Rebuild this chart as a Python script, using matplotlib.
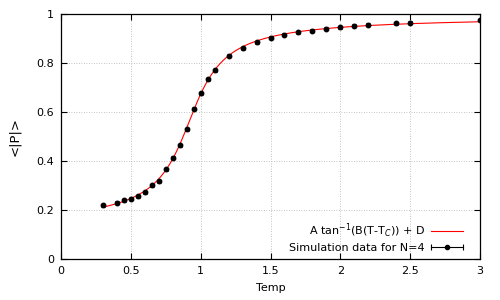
import numpy as np
import matplotlib
matplotlib.use("Agg")
import matplotlib.pyplot as plt
from matplotlib.lines import Line2D
from matplotlib.legend_handler import HandlerBase

temp = [0.3, 0.4, 0.45, 0.5, 0.55, 0.6, 0.65, 0.7, 0.75, 0.8, 0.85, 0.9, 0.95, 1.0,
        1.05, 1.1, 1.2, 1.3, 1.4, 1.5, 1.6, 1.7, 1.8, 1.9, 2.0, 2.1, 2.2, 2.4, 2.5, 3.0]
pabs = [0.219, 0.230, 0.240, 0.245, 0.256, 0.272, 0.301, 0.317, 0.366, 0.413, 0.464,
        0.529, 0.613, 0.676, 0.733, 0.771, 0.830, 0.861, 0.884, 0.903, 0.916, 0.925,
        0.933, 0.940, 0.947, 0.952, 0.956, 0.962, 0.964, 0.976]
perr = [0.006] * len(temp)

# fitted parameters of A*atan(B*(T-Tc)) + D
fit_A, fit_B, fit_Tc, fit_D = 0.2752, 5.25, 0.918, 0.5615


class HandlerXErr(HandlerBase):
    def create_artists(self, legend, orig, xdescent, ydescent, width, height,
                       fontsize, trans):
        y = height / 2 - ydescent
        x0 = -xdescent
        x1 = x0 + width
        line = Line2D([x0, x1], [y, y], color='black', lw=0.8)
        caps = Line2D([x0, x1], [y, y], ls='none', marker='|', ms=4.5,
                      mew=0.8, color='black')
        dot = Line2D([(x0 + x1) / 2], [y], ls='none', marker='o', ms=3,
                     color='black')
        for a in (line, caps, dot):
            a.set_transform(trans)
        return [line, caps, dot]


plt.rcParams['font.family'] = 'DejaVu Sans'
plt.rcParams['font.size'] = 8
fig = plt.figure(figsize=(5, 3), dpi=100)
ax = fig.add_axes([0.122, 0.137, 0.838, 0.816])

tt = np.linspace(min(temp), max(temp), 400)
fit_line, = ax.plot(tt, fit_A * np.arctan(fit_B * (tt - fit_Tc)) + fit_D,
                    color='red', lw=0.8, zorder=2)
eb = ax.errorbar(temp, pabs, yerr=perr, fmt='o', color='black', ms=3.2,
                 capsize=1.5, elinewidth=0.8, capthick=0.8, zorder=3)

ax.set_xlim(0, 3)
ax.set_ylim(0, 1)
ax.set_xticks([0, 0.5, 1, 1.5, 2, 2.5, 3])
ax.set_xticklabels(['0', '0.5', '1', '1.5', '2', '2.5', '3'])
ax.set_yticks([0, 0.2, 0.4, 0.6, 0.8, 1])
ax.set_yticklabels(['0', '0.2', '0.4', '0.6', '0.8', '1'])
ax.grid(True, color='#b0b0b0', linestyle=(0, (1, 2)), lw=0.6)
ax.tick_params(direction='in', top=True, right=True, length=4, width=0.8, pad=5)
for s in ax.spines.values():
    s.set_linewidth(0.9)
ax.set_xlabel('Temp', labelpad=5)
ax.set_ylabel('<|P|>', labelpad=11, fontsize=9.5)

proxy = Line2D([], [], color='black')
leg = ax.legend([fit_line, proxy],
                [r'A tan$^{-1}$(B(T-T$_C$)) + D', 'Simulation data for N=4'],
                handler_map={proxy: HandlerXErr()},
                loc='lower right', bbox_to_anchor=(0.975, 0.0), frameon=False,
                markerfirst=False, handlelength=2.9, borderaxespad=0.15,
                labelspacing=0.25, handletextpad=0.6)
fig.savefig('out.png', dpi=100)
